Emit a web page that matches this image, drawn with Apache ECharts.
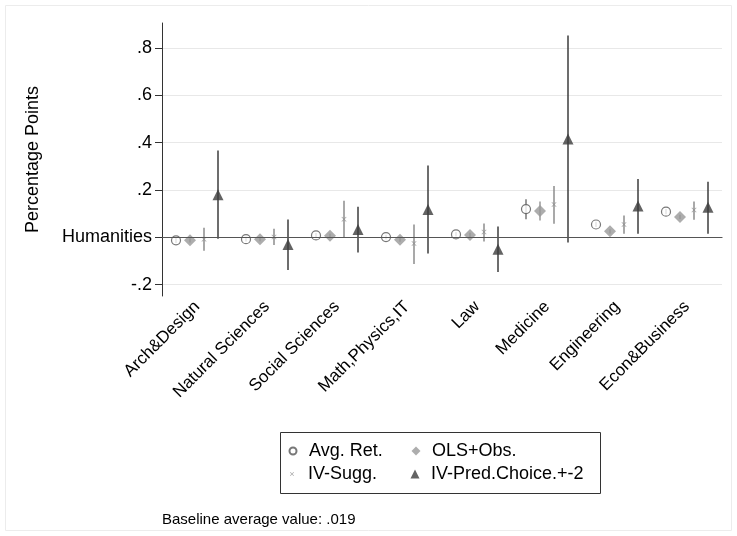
<!DOCTYPE html>
<html>
<head>
<meta charset="utf-8">
<script src="https://cdn.jsdelivr.net/npm/echarts@6/dist/echarts.min.js"></script>
<style>
  html, body { margin: 0; padding: 0; background: #fff; }
  #main { width: 737px; height: 536px; }
</style>
</head>
<body>
<div id="main"></div>
<script>
const categories = ['Arch&Design', 'Natural Sciences', 'Social Sciences', 'Math,Physics,IT',
    'Law', 'Medicine', 'Engineering', 'Econ&Business'];
const yTicks = [-0.2, 0, 0.2, 0.4, 0.6, 0.8];

// point estimates and +-2 se bands
const avgRet = [-0.013, -0.008, 0.008, 0.001, 0.012, 0.119, 0.054, 0.108];
const avgRetLo = [-0.024, -0.018, -0.002, -0.009, 0.003, 0.076, 0.043, 0.097];
const avgRetHi = [-0.002, 0.002, 0.018, 0.011, 0.022, 0.161, 0.066, 0.119];

const olsObs = [-0.013, -0.008, 0.006, -0.010, 0.010, 0.111, 0.025, 0.086];
const olsObsLo = [-0.022, -0.017, -0.003, -0.019, 0.001, 0.071, 0.016, 0.077];
const olsObsHi = [-0.004, 0.001, 0.015, -0.001, 0.019, 0.151, 0.034, 0.095];

const ivSugg = [-0.008, 0.001, 0.076, -0.026, 0.022, 0.138, 0.054, 0.115];
const ivSuggLo = [-0.057, -0.033, 0.000, -0.113, -0.018, 0.057, 0.015, 0.074];
const ivSuggHi = [0.040, 0.036, 0.154, 0.054, 0.058, 0.217, 0.092, 0.151];

const ivPred = [0.180, -0.031, 0.033, 0.117, -0.051, 0.415, 0.132, 0.127];
const ivPredLo = [-0.006, -0.138, -0.064, -0.068, -0.147, -0.022, 0.015, 0.015];
const ivPredHi = [0.367, 0.075, 0.129, 0.303, 0.046, 0.852, 0.246, 0.235];

const FONT = '"Liberation Sans", Arial, sans-serif';
const xMark = 'path://M0,1L1,0L5,4L9,0L10,1L6,5L10,9L9,10L5,6L1,10L0,9L4,5Z';

function ciSeries(name, lo, hi, offset, color, width) {
    return {
        type: 'custom',
        name: name,
        silent: true,
        z: 2,
        data: lo.map(function (v, i) { return [i, v, hi[i]]; }),
        encode: { x: 0, y: [1, 2] },
        renderItem: function (params, api) {
            const a = api.coord([api.value(0), api.value(1)]);
            const b = api.coord([api.value(0), api.value(2)]);
            return {
                type: 'line',
                shape: { x1: a[0] + offset, y1: a[1], x2: b[0] + offset, y2: b[1] },
                style: { stroke: color, lineWidth: width }
            };
        }
    };
}

function pointSeries(name, values, offset, symbol, size, style) {
    return {
        type: 'scatter',
        name: name,
        z: 3,
        data: values,
        symbol: symbol,
        symbolSize: size,
        symbolOffset: [offset, 0],
        itemStyle: style
    };
}

const zeroLine = ciSeries('ci-avg', avgRetLo, avgRetHi, -21, '#555', 1.2);
zeroLine.markLine = {
    silent: true,
    symbol: 'none',
    label: { show: false },
    lineStyle: { color: '#555', type: 'solid', width: 1.2 },
    data: [{ yAxis: 0 }]
};

// legend: icon centre x, row top, icon size
const legendItems = [
    { name: 'Avg. Ret.', cx: 292, top: 442, h: 7 },
    { name: 'OLS+Obs.', cx: 416, top: 442, h: 9 },
    { name: 'IV-Sugg.', cx: 292, top: 465, h: 4 },
    { name: 'IV-Pred.Choice.+-2', cx: 415, top: 465, h: 9 }
];

const chart = echarts.init(document.getElementById('main'), null, { renderer: 'canvas' });
chart.setOption({
    backgroundColor: '#fff',
    animation: false,
    textStyle: { fontFamily: FONT },
    grid: { left: 162, right: 15, top: 23, bottom: 240 },
    legend: legendItems.map(function (it) {
        return {
            data: [it.name],
            left: it.cx - it.h / 2,
            top: it.top,
            padding: 0,
            itemWidth: it.h,
            itemHeight: it.h,
            selectedMode: false,
            textStyle: {
                fontSize: 18, color: '#000', fontFamily: FONT,
                padding: [0, 0, 0, 11 - it.h / 2]
            }
        };
    }),
    xAxis: {
        type: 'category',
        data: categories,
        axisLine: { lineStyle: { color: '#333', width: 1 } },
        axisTick: { alignWithLabel: true, length: 7, lineStyle: { color: '#333' } },
        axisLabel: { rotate: 45, interval: 0, margin: 8, fontSize: 17, color: '#000', fontFamily: FONT },
        splitLine: { show: false }
    },
    yAxis: {
        type: 'value',
        min: -0.248,
        max: 0.905,
        name: 'Percentage Points',
        nameLocation: 'middle',
        nameGap: 120,
        nameTextStyle: { fontSize: 18, color: '#000', fontFamily: FONT },
        axisLine: { show: true, lineStyle: { color: '#333', width: 1 } },
        axisTick: { show: true, length: 7, customValues: yTicks, lineStyle: { color: '#333' } },
        axisLabel: {
            customValues: yTicks,
            margin: 10,
            fontSize: 18,
            color: '#000',
            fontFamily: FONT,
            formatter: function (v) {
                if (Math.abs(v) < 1e-9) return 'Humanities';
                return String(Math.round(v * 10) / 10).replace('0.', '.');
            }
        },
        splitLine: { show: true, lineStyle: { color: '#e8e8e8', width: 1 } }
    },
    graphic: [
        {
            type: 'rect',
            shape: { x: 5.5, y: 5.5, width: 726, height: 525 },
            style: { fill: 'none', stroke: '#ececec', lineWidth: 1 },
            silent: true
        },
        {
            type: 'rect',
            shape: { x: 280.5, y: 432.5, width: 320, height: 61 },
            style: { fill: 'none', stroke: '#333', lineWidth: 1 },
            silent: true
        },
        {
            type: 'text',
            left: 162,
            top: 512,
            style: { text: 'Baseline average value: .019', fontSize: 15, fill: '#000', font: '15px ' + FONT },
            silent: true
        }
    ],
    series: [
        zeroLine,
        ciSeries('ci-ols', olsObsLo, olsObsHi, -7, '#999', 1.5),
        ciSeries('ci-sugg', ivSuggLo, ivSuggHi, 7, '#8c8c8c', 1.5),
        ciSeries('ci-pred', ivPredLo, ivPredHi, 21, '#3c3c3c', 1.5),
        pointSeries('Avg. Ret.', avgRet, -21, 'circle', 9,
            { color: '#fff', borderColor: '#555', borderWidth: 1.2 }),
        pointSeries('OLS+Obs.', olsObs, -7, 'diamond', 12, { color: '#999' }),
        pointSeries('IV-Sugg.', ivSugg, 7, xMark, 5, { color: '#8c8c8c' }),
        pointSeries('IV-Pred.Choice.+-2', ivPred, 21, 'triangle', 11, { color: '#3c3c3c' })
    ]
});
</script>
</body>
</html>
